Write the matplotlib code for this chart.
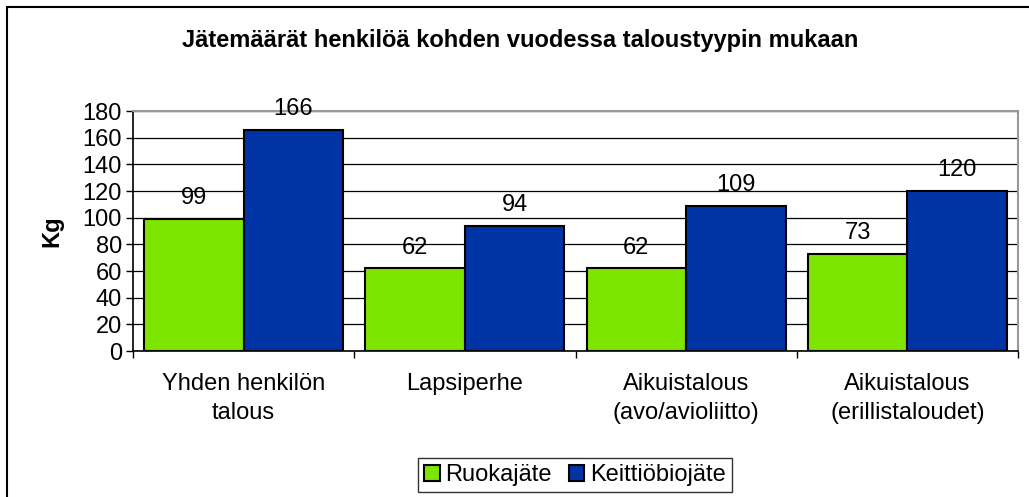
import matplotlib
matplotlib.use("Agg")
import matplotlib.pyplot as plt
import numpy as np
from matplotlib.patches import Rectangle

plt.rcParams['font.family'] = ['Liberation Sans', 'DejaVu Sans']

categories = ["Yhden henkilön\ntalous", "Lapsiperhe", "Aikuistalous\n(avo/avioliitto)", "Aikuistalous\n(erillistaloudet)"]
ruokajate = [99, 62, 62, 73]
keittiobiojate = [166, 94, 109, 120]
series_names = ["Ruokajäte", "Keittiöbiojäte"]
colors = ["#7CE600", "#0033A3"]
title = "Jätemäärät henkilöä kohden vuodessa taloustyypin mukaan"
yticks = list(range(0, 181, 20))

FS = 17

fig = plt.figure(figsize=(10.29, 4.97), dpi=100)
fig.patches.append(Rectangle((7/1029, -0.1), 1.2, 1 - 7/497 + 0.1, transform=fig.transFigure,
                             fill=False, edgecolor='black', linewidth=1.5))
ax = fig.add_axes([133/1029, 1 - 351/497, (1018-133)/1029, (351-111)/497])

x = np.arange(len(categories))
w = 0.45
b1 = ax.bar(x - w/2, ruokajate, w, color=colors[0], edgecolor='black', linewidth=1.5, label=series_names[0], zorder=3)
b2 = ax.bar(x + w/2, keittiobiojate, w, color=colors[1], edgecolor='black', linewidth=1.5, label=series_names[1], zorder=3)
for bars, vals in ((b1, ruokajate), (b2, keittiobiojate)):
    for r, v in zip(bars, vals):
        ax.annotate(str(v), (r.get_x() + r.get_width()/2, v), xytext=(0, 7), textcoords='offset points',
                    ha='center', va='bottom', fontsize=FS, zorder=4)

ax.set_xlim(-0.5, len(categories) - 0.5)
ax.set_ylim(0, 180)
ax.set_yticks(yticks)
ax.tick_params(axis='y', labelsize=FS, length=5, direction='out', width=1, pad=3)
ax.set_xticks(x)
ax.set_xticklabels(categories, fontsize=FS, linespacing=1.4)
ax.tick_params(axis='x', which='major', length=0, pad=16)
ax.set_xticks(np.arange(len(categories) + 1) - 0.5, minor=True)
ax.tick_params(axis='x', which='minor', length=5, width=1)
ax.yaxis.grid(True, color='black', linewidth=0.9, zorder=0)
ax.set_axisbelow(True)
for s in ('top', 'right'):
    ax.spines[s].set_color('#999999')
    ax.spines[s].set_linewidth(1.5)
for s in ('left', 'bottom'):
    ax.spines[s].set_color('black')
    ax.spines[s].set_linewidth(1.2)
ax.set_ylabel("Kg", fontsize=FS, fontweight='bold', labelpad=14)

fig.text(520/1029, 1 - 41/497, title, ha='center', va='center', fontsize=FS, fontweight='bold')

leg = fig.legend(loc='center', bbox_to_anchor=(575/1029, 1 - 475/497), ncol=2, fontsize=FS,
                 frameon=True, fancybox=False, edgecolor='black', handlelength=0.65, handleheight=0.65,
                 handletextpad=0.25, columnspacing=0.7, borderpad=0.25)
leg.get_frame().set_linewidth(1.0)

fig.savefig("out.png", dpi=100)
